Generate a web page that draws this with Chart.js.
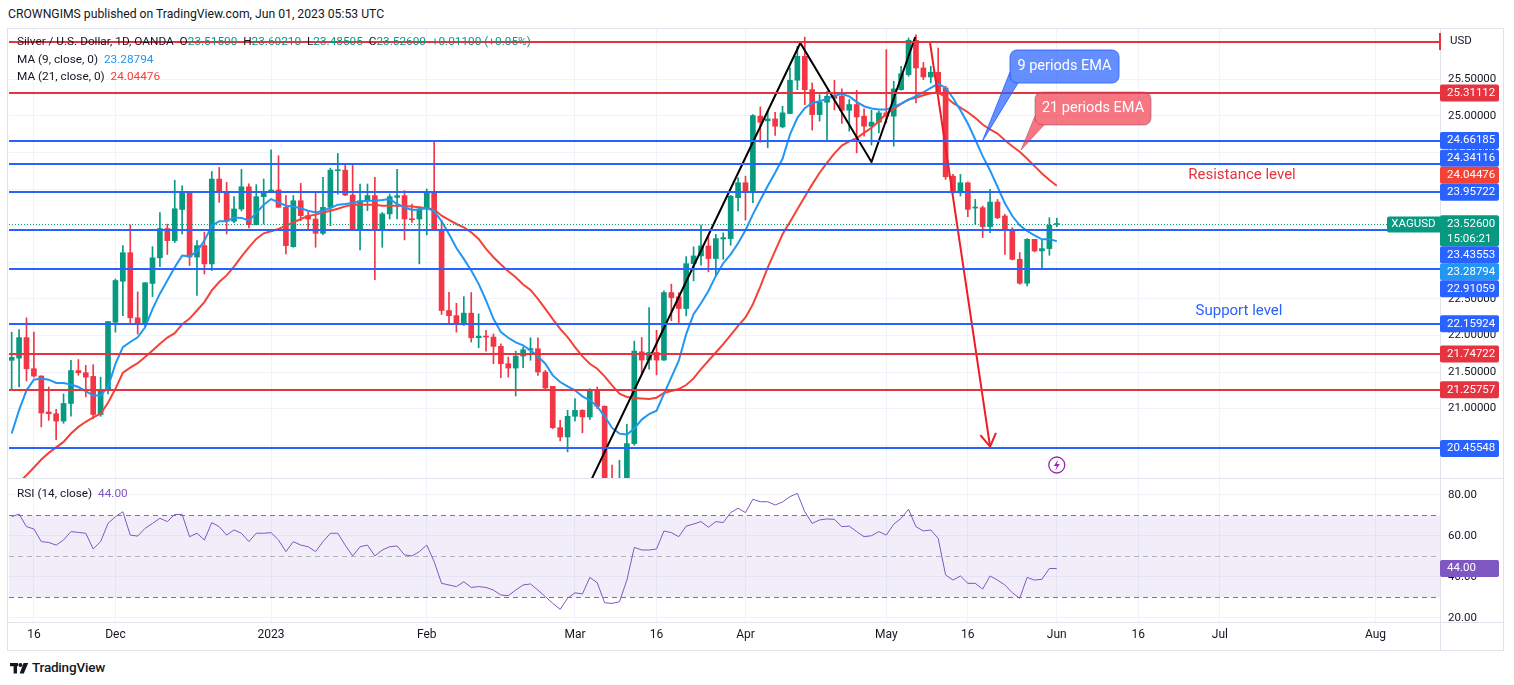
<!DOCTYPE html>
<html>
<head>
<meta charset="utf-8">
<title>XAGUSD 1D</title>
<script src="https://cdn.jsdelivr.net/npm/chart.js@4.4.1/dist/chart.umd.min.js"></script>
<style>
  body { margin: 0; background: #fff; font-family: Roboto, 'Noto Sans', sans-serif; color: #131722; }
  #wrap { position: relative; width: 1514px; height: 685px; overflow: hidden; }
  #frame { position: absolute; left: 7px; top: 28px; width: 1497px; height: 623px; border: 1px solid #e0e3eb; box-sizing: border-box; }
  canvas { position: absolute; left: 0; }
  #priceCanvas { top: 0; }
  #rsiCanvas { top: 479px; }
  .txt { position: absolute; white-space: nowrap; font-size: 11.8px; line-height: 14px; }
  .g { color: #089981; }
  .b { color: #2196f3; }
  .r { color: #f44336; }
  .p { color: #7e57c2; }
  #logo { position: absolute; left: 10px; top: 659px; font-size: 13.5px; font-weight: 500; letter-spacing: -0.2px; }
  #logo svg { vertical-align: -2px; margin-right: 3px; }
</style>
</head>
<body>
<div id="wrap">
  <div class="txt" style="left:8px;top:7px;font-size:12.2px">CROWNGIMS published on TradingView.com, Jun 01, 2023 05:53 UTC</div>
  <div id="frame"></div>
  <canvas id="priceCanvas" width="1514" height="479"></canvas>
  <canvas id="rsiCanvas" width="1514" height="171"></canvas>
  <div class="txt" style="left:17px;top:34px">Silver / U.S. Dollar, 1D, OANDA&nbsp; O<span class="g">23.51500</span>&nbsp; H<span class="g">23.60210</span>&nbsp; L<span class="g">23.48505</span>&nbsp; C<span class="g">23.52600</span>&nbsp; <span class="g">+0.01100 (+0.05%)</span></div>
  <div class="txt" style="left:17px;top:52px">MA (9, close, 0)&nbsp; <span class="b">23.28794</span></div>
  <div class="txt" style="left:17px;top:69px">MA (21, close, 0)&nbsp; <span class="r">24.04476</span></div>
  <div class="txt" style="left:17px;top:486px">RSI (14, close)&nbsp; <span class="p">44.00</span></div>
  <div id="logo"><svg width="19" height="12" viewBox="0 0 19 12"><rect x="0" y="1" width="8" height="3.2" fill="#131722"/><rect x="3.6" y="1" width="3.4" height="10.5" fill="#131722"/><circle cx="10.4" cy="3" r="2" fill="#131722"/><polygon points="13.6,1 18.2,1 13.8,11.5 9.6,11.5" fill="#131722"/></svg>TradingView</div>
</div>
<script>
// daily bars, Nov 11 2022 .. Jun 01 2023 (OANDA trading days)
const opens = [21.66, 21.69, 21.97, 21.545, 21.445, 20.954, 20.93, 20.83, 21.07, 21.52,
  21.49, 21.44, 20.92, 21.25, 22.18, 22.74, 23.13, 22.24, 22.16, 22.71,
  23.06, 23.46, 23.295, 23.72, 23.954, 23.07, 23.227, 22.977, 24.136, 23.95,
  23.56, 23.727, 24.03, 23.513, 23.895, 23.954, 23.986, 23.75, 23.213, 23.84,
  23.636, 23.59, 23.395, 23.75, 24.25, 24.258, 23.918, 23.44, 23.84, 23.91,
  23.44, 23.66, 23.886, 23.909, 23.59, 23.59, 23.727, 23.954, 23.44, 22.34,
  22.27, 22.16, 22.304, 21.968, 21.99, 21.977, 21.85, 21.613, 21.554, 21.718,
  21.80, 21.818, 21.50, 21.304, 20.74, 20.613, 20.895, 20.977, 20.886, 21.259,
  21.031, 20.03, 19.97, 20.0, 20.522, 21.776, 21.663, 21.767, 21.663, 22.585,
  22.527, 22.367, 22.98, 23.086, 23.222, 23.05, 23.317, 23.322, 23.881, 24.086,
  23.958, 24.995, 24.931, 24.958, 24.849, 25.031, 25.486, 25.813, 25.358, 25.017,
  25.185, 25.27, 25.267, 25.076, 25.154, 24.995, 24.858, 24.913, 25.04, 24.995,
  25.358, 25.563, 26.031, 25.654, 25.531, 25.594, 25.38, 24.176, 23.949, 24.085,
  23.74, 23.745, 23.486, 23.822, 23.631, 23.44, 23.04, 22.713, 23.313, 23.154,
  23.186, 23.515];
const highs = [22.045, 22.08, 22.24, 22.045, 21.45, 21.295, 20.99, 21.2, 21.66, 21.67,
  21.59, 21.6, 21.43, 22.19, 22.77, 23.227, 23.51, 22.595, 22.72, 23.213,
  23.677, 23.52, 24.12, 24.045, 23.96, 23.295, 23.41, 24.24, 24.295, 24.09,
  23.895, 24.27, 24.07, 24.06, 24.136, 24.536, 24.455, 23.91, 23.91, 24.077,
  23.70, 23.954, 24.159, 24.286, 24.486, 24.35, 24.34, 24.068, 24.068, 24.159,
  23.68, 23.93, 24.27, 23.977, 23.795, 23.75, 24.0, 24.645, 23.568, 22.59,
  22.44, 22.53, 22.586, 22.295, 22.068, 22.02, 21.886, 21.704, 21.786, 21.84,
  21.968, 21.968, 21.522, 21.304, 20.84, 20.977, 21.136, 20.986, 21.272, 21.295,
  21.04, 20.227, 20.295, 20.786, 21.922, 21.97, 22.38, 22.07, 22.61, 22.70,
  22.585, 23.076, 23.21, 23.508, 23.367, 23.381, 23.40, 23.913, 24.154, 24.176,
  25.017, 25.122, 25.063, 25.049, 25.131, 25.654, 25.949, 26.076, 25.449, 25.29,
  25.336, 25.486, 25.367, 25.222, 25.35, 25.095, 25.076, 25.063, 25.904, 25.472,
  25.676, 26.063, 26.108, 25.731, 25.676, 25.926, 25.404, 24.199, 24.199, 24.094,
  23.858, 23.767, 23.995, 23.858, 23.654, 23.472, 23.131, 23.322, 23.313, 23.313,
  23.608, 23.602];
const lows = [21.27, 21.295, 21.377, 21.43, 20.75, 20.84, 20.577, 20.8, 20.895, 21.455,
  21.16, 20.86, 20.895, 21.2, 22.045, 22.27, 22.17, 22.02, 22.11, 22.53,
  22.94, 23.105, 23.27, 23.386, 22.954, 22.545, 22.84, 22.886, 23.818, 23.385,
  23.54, 23.70, 23.468, 23.51, 23.52, 23.95, 23.75, 23.113, 23.204, 23.568,
  23.43, 23.204, 23.377, 23.50, 23.93, 23.91, 23.44, 23.168, 23.704, 22.76,
  23.204, 23.59, 23.59, 23.304, 23.545, 22.977, 23.372, 23.43, 22.286, 22.16,
  22.045, 22.136, 21.909, 21.832, 21.786, 21.613, 21.423, 21.43, 21.172, 21.558,
  21.66, 21.454, 21.259, 20.727, 20.559, 20.409, 20.832, 20.668, 20.85, 21.0,
  19.88, 19.88, 19.9, 19.95, 20.5, 21.47, 21.54, 21.46, 21.66, 22.2,
  22.153, 22.267, 22.745, 22.96, 22.867, 22.822, 23.04, 23.231, 23.699, 23.576,
  23.813, 24.64, 24.563, 24.731, 24.835, 25.031, 25.358, 25.153, 24.804, 24.927,
  24.654, 25.08, 24.895, 24.79, 24.494, 24.722, 24.6, 24.767, 24.904, 24.585,
  25.35, 25.54, 25.176, 25.495, 25.45, 25.31, 24.131, 23.94, 23.904, 23.622,
  23.517, 23.336, 23.404, 23.595, 23.108, 23.03, 22.699, 22.676, 23.14, 22.904,
  23.095, 23.485];
const closes = [21.70, 21.97, 21.545, 21.445, 20.94, 20.93, 20.83, 21.07, 21.52, 21.49,
  21.43, 20.92, 21.26, 22.19, 22.75, 23.13, 22.24, 22.16, 22.72, 23.06,
  23.46, 23.295, 23.73, 23.954, 23.07, 23.227, 22.977, 24.136, 23.95, 23.56,
  23.727, 24.03, 23.513, 23.895, 23.954, 23.986, 23.75, 23.227, 23.84, 23.636,
  23.59, 23.395, 23.75, 24.258, 24.258, 23.918, 23.44, 23.84, 23.91, 23.44,
  23.66, 23.895, 23.909, 23.59, 23.58, 23.727, 23.963, 23.44, 22.34, 22.27,
  22.16, 22.304, 21.968, 21.99, 21.977, 21.85, 21.613, 21.554, 21.718, 21.804,
  21.82, 21.50, 21.281, 20.74, 20.613, 20.895, 20.977, 20.886, 21.259, 21.031,
  19.98, 19.97, 20.04, 20.522, 21.786, 21.663, 21.767, 21.663, 22.585, 22.517,
  22.367, 22.98, 23.086, 23.222, 23.05, 23.322, 23.336, 23.903, 24.086, 23.958,
  25.004, 24.913, 24.958, 24.858, 25.04, 25.486, 25.813, 25.358, 25.017, 25.185,
  25.267, 25.24, 25.076, 25.154, 24.985, 24.858, 24.913, 25.04, 24.995, 25.367,
  25.576, 26.031, 25.654, 25.531, 25.594, 25.313, 24.167, 23.949, 24.085, 23.722,
  23.75, 23.486, 23.822, 23.608, 23.44, 23.04, 22.713, 23.313, 23.154, 23.186,
  23.504, 23.526];
const ma9 = [20.66, 20.98, 21.25, 21.395, 21.41, 21.395, 21.35, 21.35, 21.33, 21.295,
  21.24, 21.18, 21.18, 21.295, 21.61, 21.84, 21.91, 21.975, 22.11, 22.36,
  22.57, 22.75, 22.93, 23.09, 23.08, 23.15, 23.295, 23.5, 23.56, 23.56,
  23.61, 23.605, 23.57, 23.67, 23.785, 23.863, 23.818, 23.772, 23.76, 23.736,
  23.704, 23.68, 23.704, 23.74, 23.786, 23.795, 23.81, 23.83, 23.84, 23.84,
  23.85, 23.863, 23.795, 23.75, 23.713, 23.72, 23.74, 23.70, 23.559, 23.386,
  23.195, 23.045, 22.886, 22.704, 22.477, 22.227, 22.045, 21.968, 21.904, 21.863,
  21.795, 21.713, 21.613, 21.454, 21.363, 21.304, 21.25, 21.168, 21.113, 21.031,
  20.895, 20.736, 20.658, 20.645, 20.727, 20.85, 20.926, 20.972, 21.2, 21.426,
  21.654, 22.017, 22.29, 22.44, 22.608, 22.813, 22.986, 23.108, 23.258, 23.436,
  23.654, 23.85, 24.04, 24.222, 24.413, 24.745, 24.972, 25.104, 25.176, 25.199,
  25.231, 25.276, 25.299, 25.265, 25.19, 25.131, 25.1, 25.085, 25.085, 25.122,
  25.167, 25.222, 25.267, 25.322, 25.381, 25.44, 25.381, 25.244, 25.076, 24.895,
  24.676, 24.449, 24.254, 24.031, 23.804, 23.631, 23.504, 23.426, 23.368, 23.313,
  23.313, 23.288];
const ma21 = [19.9, 19.99, 20.09, 20.195, 20.305, 20.395, 20.47, 20.545, 20.66, 20.75,
  20.82, 20.88, 20.93, 21.08, 21.27, 21.49, 21.56, 21.62, 21.705, 21.795,
  21.885, 21.97, 22.03, 22.15, 22.23, 22.34, 22.455, 22.615, 22.73, 22.82,
  22.94, 23.077, 23.204, 23.318, 23.395, 23.422, 23.454, 23.5, 23.545, 23.59,
  23.631, 23.65, 23.677, 23.704, 23.731, 23.763, 23.786, 23.786, 23.786, 23.786,
  23.772, 23.772, 23.772, 23.768, 23.76, 23.75, 23.736, 23.722, 23.636, 23.577,
  23.522, 23.477, 23.408, 23.318, 23.181, 23.068, 22.968, 22.877, 22.795, 22.695,
  22.622, 22.5, 22.363, 22.222, 22.09, 21.977, 21.84, 21.713, 21.613, 21.545,
  21.44, 21.318, 21.204, 21.159, 21.145, 21.138, 21.131, 21.149, 21.213, 21.24,
  21.267, 21.322, 21.413, 21.54, 21.654, 21.767, 21.881, 22.004, 22.131, 22.245,
  22.426, 22.667, 22.926, 23.154, 23.381, 23.549, 23.722, 23.895, 24.063, 24.222,
  24.358, 24.486, 24.594, 24.65, 24.695, 24.767, 24.836, 24.926, 25.031, 25.095,
  25.163, 25.222, 25.245, 25.281, 25.308, 25.317, 25.258, 25.176, 25.113, 25.049,
  24.972, 24.881, 24.813, 24.758, 24.667, 24.585, 24.508, 24.413, 24.313, 24.213,
  24.122, 24.045];
const rsi = [69.4, 70.7, 64.5, 63.4, 57.2, 56.8, 55.5, 58.0, 62.1, 61.7,
  61.3, 53.6, 57.2, 66.1, 69.4, 71.8, 60.4, 59.9, 63.7, 66.1,
  68.6, 67.0, 70.5, 70.5, 59.6, 61.3, 58.0, 66.5, 64.5, 60.4,
  62.9, 61.3, 57.2, 61.3, 61.3, 61.6, 58.0, 52.3, 57.2, 55.5,
  54.7, 52.3, 57.2, 61.3, 61.3, 55.5, 50.2, 54.7, 55.5, 50.2,
  53.1, 54.7, 55.1, 50.7, 50.2, 52.3, 55.5, 47.4, 36.8, 36.0,
  35.2, 37.6, 34.8, 35.2, 34.8, 33.5, 31.1, 30.8, 33.5, 36.0,
  36.5, 33.5, 30.3, 27.0, 24.1, 29.5, 32.2, 31.6, 39.7, 37.1,
  27.3, 27.0, 27.8, 38.4, 54.4, 53.1, 53.1, 53.6, 62.4, 61.6,
  59.6, 64.8, 65.8, 67.0, 64.2, 67.0, 66.5, 71.4, 73.5, 71.4,
  77.9, 76.7, 76.7, 75.1, 76.6, 79.2, 80.8, 71.8, 66.1, 67.8,
  68.3, 68.1, 64.5, 64.8, 62.1, 59.6, 60.1, 62.1, 60.4, 65.7,
  68.6, 73.0, 64.5, 62.4, 62.9, 58.8, 40.9, 38.4, 40.4, 36.8,
  36.8, 34.0, 40.4, 38.4, 36.0, 32.2, 29.5, 39.7, 38.4, 38.8,
  44.1, 44.0];

// last values shown on the scale
const lastClose = 23.526;
const lastMa9 = 23.28794;
const lastMa21 = 24.04476;
const lastRsi = 44.0;
const countdown = '15:06:21';

// time axis (bar index -> label)
const tickIdx = [3, 14, 35, 56, 76, 87, 99, 118, 129, 141, 152, 163, 184];
const tickText = ['16', 'Dec', '2023', 'Feb', 'Mar', '16', 'Apr', 'May', '16', 'Jun', '16', 'Jul', 'Aug'];

// horizontal support / resistance lines
const levelPrices = [26.01, 25.31112, 24.66185, 24.34116, 23.95722, 23.43553, 22.91059, 22.15924, 21.74722, 21.25757, 20.45548];
const levelKinds = ['r', 'r', 'b', 'b', 'b', 'b', 'b', 'b', 'r', 'r', 'b'];
const levelShowLabel = [false, true, true, true, true, true, true, true, true, true, true];

// hand drawn M pattern and down arrow (bar index, price)
const patternIdx = [77.6, 106.4, 116.0, 121.9];
const patternPrice = [19.9, 25.995, 24.369, 26.077];
const arrowIdx = [123.9, 132.0];
const arrowPrice = [26.0, 20.48];

// view ranges
const xMin = -0.36, xMax = 192.7;
const priceMin = 20.052, priceMax = 26.186;
const rsiMin = 17.9, rsiMax = 87.82;

const UP = '#089981', DOWN = '#f23645';
const LINE_RED = '#e5333f', LINE_BLUE = '#2962ff';
const MA9_COL = '#2196f3', MA21_COL = '#f44336';
const GRID = '#f0f3fa', SEP = '#e0e3eb';

Chart.defaults.font.family = 'Roboto, "Noto Sans", sans-serif';
Chart.defaults.color = '#131722';

const candleColors = closes.map((c, i) => c >= opens[i] ? UP : DOWN);
const wickData = closes.map((c, i) => ({ x: i, y: [lows[i], highs[i]] }));
const bodyData = closes.map((c, i) => ({ x: i, y: [opens[i], c] }));
const ma9Data = ma9.map((v, i) => ({ x: i, y: v }));
const ma21Data = ma21.map((v, i) => ({ x: i, y: v }));
const rsiData = rsi.map((v, i) => ({ x: i, y: v }));
const patternData = patternIdx.map((v, i) => ({ x: v, y: patternPrice[i] }));
const arrowData = arrowIdx.map((v, i) => ({ x: v, y: arrowPrice[i] }));

function fitAxis(size, horizontal) {
  return s => {
    if (horizontal) s.height = size; else s.width = size;
    s.paddingTop = s.paddingBottom = s.paddingLeft = s.paddingRight = 0;
  };
}

function xAxis(showLabels) {
  return {
    type: 'linear', min: xMin, max: xMax, offset: false,
    afterBuildTicks: s => { s.ticks = tickIdx.map(v => ({ value: v })); },
    afterFit: fitAxis(showLabels ? 28 : 0, true),
    ticks: {
      display: showLabels, autoSkip: false, maxRotation: 0, padding: 6,
      font: { size: 12 }, color: '#131722',
      callback: (v, i) => tickText[i]
    },
    grid: { color: GRID, drawTicks: false, offset: false },
    border: { display: false }
  };
}

function labelBox(ctx, y, h, color, lines) {
  ctx.fillStyle = color;
  ctx.beginPath();
  ctx.roundRect(1440, y - 8.5, 59, h, 2);
  ctx.fill();
  ctx.fillStyle = '#fff';
  ctx.font = '11.5px Roboto';
  ctx.textAlign = 'left';
  ctx.textBaseline = 'middle';
  lines.forEach((t, k) => ctx.fillText(t, 1447, y + k * 15));
}

// box: x, y, w, h; shape: tip then two base points on the box edge
function callout(ctx, box, shape, fill, edge, text) {
  ctx.fillStyle = fill;
  ctx.strokeStyle = edge;
  ctx.lineWidth = 1;
  ctx.beginPath();
  ctx.roundRect(box[0], box[1], box[2], box[3], 7);
  ctx.fill();
  ctx.stroke();
  ctx.beginPath();
  ctx.moveTo(shape[2], shape[3]);
  ctx.lineTo(shape[0], shape[1]);
  ctx.lineTo(shape[4], shape[5]);
  ctx.stroke();
  ctx.lineTo(shape[2] + 2, shape[5] - 2);
  ctx.closePath();
  ctx.fill();
  ctx.fillStyle = '#fff';
  ctx.font = '14.5px Roboto';
  ctx.textAlign = 'center';
  ctx.textBaseline = 'middle';
  ctx.fillText(text, box[0] + box[2] / 2, box[1] + box[3] / 2);
}

const priceOverlay = {
  id: 'priceOverlay',
  afterDatasetsDraw(chart) {
    const { ctx, chartArea: a, scales: { x, y } } = chart;
    ctx.save();
    ctx.beginPath();
    ctx.rect(a.left, a.top, a.right - a.left, a.bottom - a.top);
    ctx.clip();

    // current price line
    const cy = Math.round(y.getPixelForValue(lastClose)) + 0.5;
    ctx.strokeStyle = UP;
    ctx.lineWidth = 1;
    ctx.setLineDash([1, 2]);
    ctx.beginPath(); ctx.moveTo(a.left, cy); ctx.lineTo(a.right, cy); ctx.stroke();
    ctx.setLineDash([]);

    // level lines
    levelPrices.forEach((p, i) => {
      const py = Math.round(y.getPixelForValue(p));
      ctx.strokeStyle = levelKinds[i] === 'r' ? LINE_RED : LINE_BLUE;
      ctx.lineWidth = 2;
      ctx.beginPath(); ctx.moveTo(a.left, py); ctx.lineTo(a.right, py); ctx.stroke();
    });

    // arrow head
    const n = arrowIdx.length;
    const tx = x.getPixelForValue(arrowIdx[n - 1]), ty = y.getPixelForValue(arrowPrice[n - 1]);
    const sx = x.getPixelForValue(arrowIdx[n - 2]), sy = y.getPixelForValue(arrowPrice[n - 2]);
    const ang = Math.atan2(ty - sy, tx - sx);
    ctx.strokeStyle = '#ee1c25';
    ctx.lineWidth = 2;
    ctx.beginPath();
    ctx.moveTo(tx - 15 * Math.cos(ang - 0.55), ty - 15 * Math.sin(ang - 0.55));
    ctx.lineTo(tx, ty);
    ctx.lineTo(tx - 15 * Math.cos(ang + 0.55), ty - 15 * Math.sin(ang + 0.55));
    ctx.stroke();

    // callouts pointing at the moving averages
    callout(ctx, [1010, 50, 109, 33], [982, 142, 1010, 72, 1018, 83],
      'rgba(41,98,255,0.72)', 'rgba(41,98,255,0.85)', '9 periods EMA');
    callout(ctx, [1035, 92, 116, 33], [1021, 150, 1035, 116, 1044, 125],
      'rgba(242,54,69,0.68)', 'rgba(140,80,110,0.55)', '21 periods EMA');

    ctx.font = '15px Roboto';
    ctx.textAlign = 'center';
    ctx.textBaseline = 'middle';
    ctx.fillStyle = '#e5333f';
    ctx.fillText('Resistance level', 1242, 175);
    ctx.fillStyle = '#2962ff';
    ctx.fillText('Support level', 1239, 311);

    // events marker on the latest bar
    const ex = x.getPixelForValue(closes.length - 1);
    ctx.strokeStyle = '#9c27b0';
    ctx.lineWidth = 1.3;
    ctx.beginPath(); ctx.arc(ex, 465, 8, 0, Math.PI * 2); ctx.stroke();
    ctx.fillStyle = '#9c27b0';
    ctx.beginPath();
    ctx.moveTo(ex + 1.5, 459.5); ctx.lineTo(ex - 3, 466); ctx.lineTo(ex, 466);
    ctx.lineTo(ex - 1.5, 470.5); ctx.lineTo(ex + 3, 464); ctx.lineTo(ex, 464);
    ctx.closePath(); ctx.fill();

    // symbol tag
    ctx.restore();
    ctx.save();
    ctx.fillStyle = UP;
    ctx.beginPath(); ctx.roundRect(1387, cy - 8, 53, 16, [2, 0, 0, 2]); ctx.fill();
    ctx.fillStyle = '#fff';
    ctx.font = '11.5px Roboto';
    ctx.textAlign = 'center';
    ctx.textBaseline = 'middle';
    ctx.fillText('XAGUSD', 1413.5, cy);
    ctx.restore();
  },
  afterDraw(chart) {
    const { ctx, scales: { y } } = chart;
    ctx.save();
    ctx.strokeStyle = SEP;
    ctx.lineWidth = 1;
    ctx.beginPath();
    ctx.moveTo(1440.5, 28); ctx.lineTo(1440.5, 479);
    ctx.moveTo(7, 478.5); ctx.lineTo(1504, 478.5);
    ctx.stroke();

    ctx.fillStyle = '#131722';
    ctx.font = '11.5px Roboto';
    ctx.textBaseline = 'middle';
    ctx.fillText('USD', 1450, 41);
    ctx.fillStyle = LINE_RED;
    ctx.fillRect(1439, 33, 2, 17);

    // scale labels, stacked so they do not overlap
    const H = 17;
    const items = [];
    levelPrices.forEach((p, i) => {
      if (levelShowLabel[i]) items.push({ v: p, lines: [p.toFixed(5)], color: levelKinds[i] === 'r' ? LINE_RED : LINE_BLUE });
    });
    items.push({ v: lastMa21, lines: [lastMa21.toFixed(5)], color: MA21_COL });
    items.push({ v: lastMa9, lines: [lastMa9.toFixed(5)], color: MA9_COL });
    items.push({ v: lastClose, lines: [lastClose.toFixed(5), countdown], color: UP, main: true });
    items.forEach(it => { it.y0 = y.getPixelForValue(it.v); it.h = it.main ? 31 : H; });
    items.sort((a, b) => a.y0 - b.y0);
    const k = items.findIndex(it => it.main);
    items[k].y = items[k].y0;
    for (let i = k - 1; i >= 0; i--) items[i].y = Math.min(items[i].y0, items[i + 1].y - 8.5 - H / 2);
    for (let i = k + 1; i < items.length; i++) items[i].y = Math.max(items[i].y0, items[i - 1].y - 8.5 + items[i - 1].h + H / 2);
    items.forEach(it => labelBox(ctx, it.y, it.h, it.color, it.lines));
    ctx.restore();
  }
};

const rsiOverlay = {
  id: 'rsiOverlay',
  beforeDatasetsDraw(chart) {
    const { ctx, chartArea: a, scales: { y } } = chart;
    ctx.save();
    const y70 = y.getPixelForValue(70), y30 = y.getPixelForValue(30), y50 = y.getPixelForValue(50);
    ctx.fillStyle = 'rgba(126,87,194,0.1)';
    ctx.fillRect(a.left, y70, a.right - a.left, y30 - y70);
    ctx.lineWidth = 1;
    ctx.setLineDash([5, 4]);
    ctx.strokeStyle = '#787b86';
    [y70, y30].forEach(py => {
      ctx.beginPath(); ctx.moveTo(a.left, Math.round(py) + 0.5); ctx.lineTo(a.right, Math.round(py) + 0.5); ctx.stroke();
    });
    ctx.strokeStyle = 'rgba(120,123,134,0.55)';
    ctx.beginPath(); ctx.moveTo(a.left, Math.round(y50) + 0.5); ctx.lineTo(a.right, Math.round(y50) + 0.5); ctx.stroke();
    ctx.restore();
  },
  afterDraw(chart) {
    const { ctx, scales: { y } } = chart;
    ctx.save();
    ctx.strokeStyle = SEP;
    ctx.lineWidth = 1;
    ctx.beginPath();
    ctx.moveTo(1440.5, 0); ctx.lineTo(1440.5, 171);
    ctx.moveTo(7, 143.5); ctx.lineTo(1504, 143.5);
    ctx.stroke();
    labelBox(ctx, y.getPixelForValue(lastRsi), 17, '#7e57c2', [lastRsi.toFixed(2)]);
    ctx.restore();
  }
};

new Chart(document.getElementById('priceCanvas'), {
  type: 'bar',
  data: {
    datasets: [
      { type: 'bar', data: wickData, backgroundColor: candleColors, barThickness: 1, grouped: false, minBarLength: 1, clip: 0, order: 6 },
      { type: 'bar', data: bodyData, backgroundColor: candleColors, barThickness: 5, grouped: false, minBarLength: 1, clip: 0, order: 5 },
      { type: 'line', data: ma21Data, borderColor: MA21_COL, borderWidth: 2, pointRadius: 0, order: 4 },
      { type: 'line', data: ma9Data, borderColor: MA9_COL, borderWidth: 2, pointRadius: 0, order: 3 },
      { type: 'line', data: patternData, borderColor: '#000', borderWidth: 2, pointRadius: 0, order: 2 },
      { type: 'line', data: arrowData, borderColor: '#ee1c25', borderWidth: 2, pointRadius: 0, order: 1 }
    ]
  },
  options: {
    responsive: false, animation: false, events: [],
    layout: { padding: { left: 9, top: 29, right: 0, bottom: 1 } },
    plugins: { legend: { display: false }, tooltip: { enabled: false } },
    scales: {
      x: xAxis(false),
      y: {
        type: 'linear', position: 'right', min: priceMin, max: priceMax, beginAtZero: false,
        afterFit: fitAxis(74, false),
        ticks: { stepSize: 0.5, includeBounds: false, padding: 8, font: { size: 11.5 }, color: '#131722',
          callback: v => v > 25.9 ? '' : v.toFixed(5) },
        grid: { color: GRID, drawTicks: false },
        border: { display: false }
      }
    }
  },
  plugins: [priceOverlay]
});

new Chart(document.getElementById('rsiCanvas'), {
  type: 'line',
  data: { datasets: [{ data: rsiData, borderColor: '#7e57c2', borderWidth: 1, pointRadius: 0 }] },
  options: {
    responsive: false, animation: false, events: [],
    layout: { padding: { left: 9, top: 0, right: 0, bottom: 0 } },
    plugins: { legend: { display: false }, tooltip: { enabled: false } },
    scales: {
      x: xAxis(true),
      y: {
        type: 'linear', position: 'right', min: rsiMin, max: rsiMax,
        afterFit: fitAxis(74, false),
        ticks: { stepSize: 20, includeBounds: false, padding: 8, font: { size: 11.5 }, color: '#131722',
          callback: v => v.toFixed(2) },
        grid: { color: GRID, drawTicks: false },
        border: { display: false }
      }
    }
  },
  plugins: [rsiOverlay]
});
</script>
</body>
</html>
